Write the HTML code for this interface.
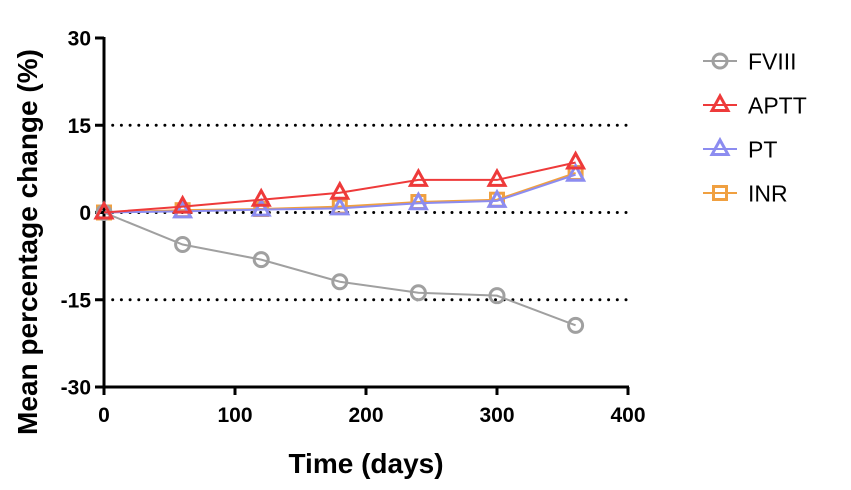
<!DOCTYPE html>
<html><head><meta charset="utf-8"><style>
html,body{margin:0;padding:0;background:#fff;}
svg{display:block;font-family:"Liberation Sans",Arial,sans-serif;}
</style></head><body>
<svg id="chart" width="851" height="490" viewBox="0 0 851 490"></svg>
<script>
const days = [0, 60, 120, 180, 240, 300, 360];
const fviii = [0, -5.5, -8.1, -11.9, -13.8, -14.3, -19.4];
const aptt = [0, 1.0, 2.2, 3.4, 5.6, 5.6, 8.6];
const pt = [0, 0.2, 0.5, 0.7, 1.6, 2.0, 6.5];
const inr = [0, 0.4, 0.6, 1.0, 1.8, 2.2, 6.8];
const xTicks = [0, 100, 200, 300, 400];
const yTicks = [30, 15, 0, -15, -30];
const refLines = [15, 0, -15];

const NS = 'http://www.w3.org/2000/svg';
const svg = document.getElementById('chart');
const X0 = 104, X1 = 628, Y0 = 387, Y1 = 38;
const xs = v => X0 + (v - 0) / 400 * (X1 - X0);
const ys = v => Y0 - (v + 30) / 60 * (Y0 - Y1);
function mk(tag, attrs, parent) {
  const e = document.createElementNS(NS, tag);
  for (const k in attrs) e.setAttribute(k, attrs[k]);
  (parent || svg).appendChild(e);
  return e;
}
refLines.forEach(v => {
  const l = mk('line', {x1: X0, x2: X1, y1: ys(v), y2: ys(v), stroke: '#000', 'stroke-width': 3, 'stroke-dasharray': '0 8.7', 'stroke-linecap': 'round'});
  
  
});
const ax = mk('line', {x1: X0, x2: X1 + 1, y1: Y0, y2: Y0, stroke: '#000', 'stroke-width': 3});


const ay = mk('line', {x1: X0, x2: X0, y1: Y1 - 1, y2: Y0 + 1, stroke: '#000', 'stroke-width': 3});


xTicks.forEach(t => {
  mk('line', {x1: xs(t), x2: xs(t), y1: Y0, y2: Y0 + 8, stroke: '#000', 'stroke-width': 3});
  const tx = mk('text', {x: xs(t), y: 422, 'text-anchor': 'middle', 'font-size': 21, 'font-weight': 'bold'});
  tx.textContent = t;
  
  
});
yTicks.forEach(t => {
  mk('line', {x1: X0 - 9, x2: X0, y1: ys(t), y2: ys(t), stroke: '#000', 'stroke-width': 3});
  const tx = mk('text', {x: X0 - 13, y: ys(t) + 7.5, 'text-anchor': 'end', 'font-size': 21, 'font-weight': 'bold'});
  tx.textContent = t;
  
  
});
const xt = mk('text', {x: 366, y: 473, 'text-anchor': 'middle', 'font-size': 28, 'font-weight': 'bold'});
xt.textContent = 'Time (days)';


const yt = mk('text', {x: 0, y: 0, 'text-anchor': 'middle', 'font-size': 28, 'font-weight': 'bold', transform: 'translate(37,242) rotate(-90)'});
yt.textContent = 'Mean percentage change (%)';



function marker(type, cx, cy, color, g) {
  if (type === 'circle') return mk('circle', {cx, cy, r: 7, fill: 'none', stroke: color, 'stroke-width': 3}, g);
  if (type === 'square') return mk('rect', {x: cx - 6.5, y: cy - 6.5, width: 13, height: 13, fill: 'none', stroke: color, 'stroke-width': 3}, g);
  return mk('polygon', {points: `${cx},${cy - 9} ${cx - 8},${cy + 5.5} ${cx + 8},${cy + 5.5}`, fill: 'none', stroke: color, 'stroke-width': 3}, g);
}
const series = [
  {name: 'inr', label: 'INR', vals: inr, color: '#f0a040', type: 'square'},
  {name: 'fviii', label: 'FVIII', vals: fviii, color: '#a0a0a0', type: 'circle'},
  {name: 'pt', label: 'PT', vals: pt, color: '#8c8cf0', type: 'triangle'},
  {name: 'aptt', label: 'APTT', vals: aptt, color: '#ee3a3a', type: 'triangle'}
];
series.forEach(s => {
  const g = mk('g', {});
  
  
  const pts = days.map((d, i) => xs(d) + ',' + ys(s.vals[i])).join(' ');
  mk('polyline', {points: pts, fill: 'none', stroke: s.color, 'stroke-width': 2}, g);
  days.forEach((d, i) => {
    const m = marker(s.type, xs(d), ys(s.vals[i]), s.color, g);
    
    
  });
});
const legOrder = [series[1], series[3], series[2], series[0]];
legOrder.forEach((s, i) => {
  const y = 61 + i * 44;
  const g = mk('g', {});
  
  
  mk('line', {x1: 703, x2: 737, y1: y, y2: y, stroke: s.color, 'stroke-width': 2}, g);
  marker(s.type, 720, y, s.color, g);
  const t = mk('text', {x: 748, y: y + 8.5, 'font-size': 23}, g);
  t.textContent = s.label;
});
</script>
</body></html>
